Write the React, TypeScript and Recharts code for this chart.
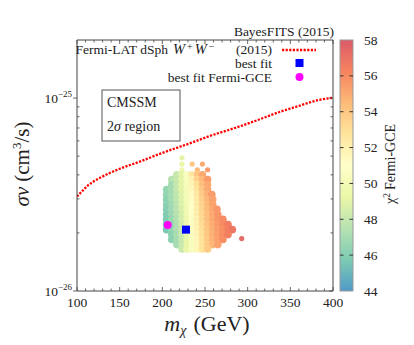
import React from 'react';
import { ComposedChart, Scatter, Line, XAxis, YAxis, ReferenceLine, BarChart, Bar } from 'recharts';

// ---------- data ----------
const xTicks = [100, 110, 120, 130, 140, 150, 160, 170, 180, 190, 200, 210, 220, 230, 240, 250, 260, 270, 280, 290, 300, 310, 320, 330, 340, 350, 360, 370, 380, 390, 400];
const xTickLabels = [100, 150, 200, 250, 300, 350, 400];
// sigma v in units of 1e-26 cm^3/s
const yMajorTicks = [1, 10];
const yTickLabels = ['\u221226', '\u221225'];
const yMinorTicks = [2, 3, 4, 5, 6, 7, 8, 9];
const colorbarTicks = [44, 46, 48, 50, 52, 54, 56, 58];

const fermiLimitMass = [100, 106, 112, 118, 127, 150, 174, 197, 221, 232, 255, 279, 303, 318, 340, 358, 381, 400];
const fermiLimitSv = [3.09, 3.29, 3.5, 3.66, 3.86, 4.3, 4.69, 5.14, 5.6, 5.82, 6.35, 6.86, 7.45, 7.88, 8.55, 9.05, 9.72, 10.05];

const bestFit = [{ m: 227.7, sv: 2.08 }];
const bestFitGCE = [{ m: 206.3, sv: 2.2 }];

// rows of the 2 sigma region: [sigma v, [[m, chi2], ...]]
const cloudRows: [number, [number, number][]][] = [
  [4.9, [[223, 49]]],
  [4.55, [[223, 49.3], [235, 54], [247, 55]]],
  [4.25, [[223, 49.5], [241, 54.5], [253, 55.5]]],
  [4.0, [[217, 48], [223, 49], [229, 50.5], [235, 52.5], [241, 54], [247, 55]]],
  [3.78, [[211, 47.5], [217, 48], [223, 49], [229, 50.5], [235, 52], [241, 53.5], [247, 54.5], [253, 55.5]]],
  [3.56, [[211, 47], [217, 48], [223, 49], [229, 50.3], [235, 51.8], [241, 53], [247, 54.3], [253, 55]]],
  [3.36, [[205, 46.5], [211, 47], [217, 48], [223, 49], [229, 50.2], [235, 51.5], [241, 52.8], [247, 54], [253, 55]]],
  [3.16, [[205, 46.5], [211, 47], [217, 47.8], [223, 48.8], [229, 50], [235, 51.3], [241, 52.5], [247, 53.8], [253, 54.8], [258, 55.5]]],
  [2.98, [[205, 46.3], [211, 47], [217, 47.8], [223, 48.8], [229, 50], [235, 51.2], [241, 52.4], [247, 53.6], [253, 54.6], [259, 55.3]]],
  [2.81, [[205, 46.2], [211, 46.9], [217, 47.7], [223, 48.7], [229, 49.9], [235, 51.1], [241, 52.3], [247, 53.5], [253, 54.5], [259, 55.2]]],
  [2.65, [[205, 46], [211, 46.8], [217, 47.6], [223, 48.6], [229, 49.8], [235, 51], [241, 52.2], [247, 53.4], [253, 54.4], [259, 55.1], [264, 55.6]]],
  [2.49, [[205, 45.9], [211, 46.7], [217, 47.5], [223, 48.5], [229, 49.7], [235, 50.9], [241, 52.1], [247, 53.3], [253, 54.3], [259, 55], [265, 55.6]]],
  [2.35, [[205, 45.8], [211, 46.6], [217, 47.4], [223, 48.4], [229, 49.6], [235, 50.8], [241, 52], [247, 53.2], [253, 54.2], [259, 55], [265, 55.6], [271, 56]]],
  [2.21, [[205, 45.7], [211, 46.5], [217, 47.3], [223, 48.3], [229, 49.5], [235, 50.7], [241, 51.9], [247, 53.1], [253, 54.1], [259, 54.9], [265, 55.5], [271, 56], [277, 56.5]]],
  [2.08, [[205, 45.6], [211, 46.4], [217, 47.2], [223, 48.2], [229, 49.4], [235, 50.6], [241, 51.8], [247, 53], [253, 54], [259, 54.8], [265, 55.4], [271, 55.9], [277, 56.4], [282, 56.8]]],
  [1.96, [[211, 46.3], [217, 47.1], [223, 48.1], [229, 49.3], [235, 50.5], [241, 51.7], [247, 52.9], [253, 53.9], [259, 54.8], [265, 55.4], [271, 55.9], [277, 56.4]]],
  [1.87, [[293, 57.3]]],
  [1.85, [[211, 46.2], [217, 47], [223, 48], [229, 49.2], [235, 50.4], [241, 51.6], [247, 52.8], [253, 53.9], [259, 54.7], [265, 55.3], [271, 55.9]]],
  [1.74, [[217, 47], [223, 48], [229, 49.2], [235, 50.4], [241, 51.6], [247, 52.8], [253, 53.8], [259, 54.6], [265, 55.3]]],
  [1.65, [[223, 48.1], [229, 49.3], [235, 50.4], [241, 51.6], [247, 52.8], [253, 53.8]]],
];

// ---------- derived tables ----------
const fermiLimit = fermiLimitMass.map((m, i) => ({ m, sv: fermiLimitSv[i] }));
const cloud = cloudRows.flatMap(([sv, pts]) => pts.map(([m, chi]) => ({ m, sv, chi, edge: pts.length <= 3 })));

// ---------- style / layout ----------
const W = 414;
const H = 345;
const FONT = '"Liberation Serif", "Times New Roman", serif';
const AX = '#444';
const MARGIN = { top: 40, right: 81, bottom: 24, left: 17 };
const Y_AXIS_W = 60;
const X_AXIS_H = 30;
const PLOT_TOP = MARGIN.top;
const PLOT_RIGHT = W - MARGIN.right;
const CB_LEFT = 340;
const CB_RIGHT = 353;
const CB_AXIS_W = 50;

const SPECTRAL = ['#3288bd', '#66c2a5', '#abdda4', '#e6f598', '#ffffbf', '#fee08b', '#fdae61', '#f46d43', '#d53e4f'];
const CHI_MIN = 44;
const CHI_MAX = 58;
const ALPHA = 0.85;

function hexRgb(h: string) {
  return [parseInt(h.slice(1, 3), 16), parseInt(h.slice(3, 5), 16), parseInt(h.slice(5, 7), 16)];
}
function blend(rgb: number[]) {
  const c = rgb.map((v) => Math.round(v * ALPHA + 255 * (1 - ALPHA)));
  return `rgb(${c[0]},${c[1]},${c[2]})`;
}
function colorFor(chi: number) {
  let t = (chi - CHI_MIN) / (CHI_MAX - CHI_MIN);
  t = Math.max(0, Math.min(1, t));
  const pos = t * (SPECTRAL.length - 1);
  const i = Math.min(SPECTRAL.length - 2, Math.floor(pos));
  const f = pos - i;
  const a = hexRgb(SPECTRAL[i]);
  const b = hexRgb(SPECTRAL[i + 1]);
  return blend(a.map((v, k) => v + (b[k] - v) * f));
}

const XTick = (props: any) => {
  const { x, y, payload } = props;
  const v = payload.value;
  const major = xTickLabels.includes(v);
  const len = major ? 4 : 2.5;
  return (
    <g>
      <line x1={x} x2={x} y1={y} y2={y - len} stroke={AX} strokeWidth={0.8} />
      <line x1={x} x2={x} y1={PLOT_TOP} y2={PLOT_TOP + len} stroke={AX} strokeWidth={0.8} />
      {major && (
        <text x={x} y={y + 16} textAnchor="middle" fontSize={13.5} fontFamily={FONT} fill="#222">
          {v}
        </text>
      )}
    </g>
  );
};

const YTick = (props: any) => {
  const { x, y, payload } = props;
  const v = payload.value;
  const mi = yMajorTicks.indexOf(v);
  if (mi >= 0) {
    return (
      <g>
        <line x1={x} x2={x - 4} y1={y} y2={y} stroke={AX} strokeWidth={0.8} />
        <line x1={PLOT_RIGHT} x2={PLOT_RIGHT - 4} y1={y} y2={y} stroke={AX} strokeWidth={0.8} />
        <text x={x - 5} y={y + 4.5} textAnchor="end" fontSize={13.5} fontFamily={FONT} fill="#222">
          10<tspan dy={-6} fontSize={9}>{yTickLabels[mi]}</tspan>
        </text>
      </g>
    );
  }
  return (
    <g>
      <line x1={x} x2={x + 2.5} y1={y} y2={y} stroke={AX} strokeWidth={0.8} />
      <line x1={PLOT_RIGHT} x2={PLOT_RIGHT - 2.5} y1={y} y2={y} stroke={AX} strokeWidth={0.8} />
    </g>
  );
};

const CloudDot = (props: any) => {
  const { cx, cy, payload } = props;
  if (cx == null || cy == null) return null;
  const fill = colorFor(payload.chi);
  return <circle cx={cx} cy={cy} r={payload.edge ? 2.6 : 3.8} fill={fill} />;
};
const SquareDot = (props: any) => {
  const { cx, cy } = props;
  return <rect x={cx - 4} y={cy - 4} width={8} height={8} fill="#0000ff" />;
};
const CircleDot = (props: any) => {
  const { cx, cy } = props;
  return <circle cx={cx} cy={cy} r={4} fill="#ff00ff" />;
};

const CbShape = (props: any) => {
  const { x, y, width, height } = props;
  return (
    <g>
      <defs>
        <linearGradient id="cbgrad" x1="0" y1="1" x2="0" y2="0">
          {SPECTRAL.map((c, i) => (
            <stop key={i} offset={i / (SPECTRAL.length - 1)} stopColor={blend(hexRgb(c))} />
          ))}
        </linearGradient>
      </defs>
      <rect x={x} y={y} width={width} height={height} fill="url(#cbgrad)" stroke="#999" strokeWidth={1} />
    </g>
  );
};

const CbTick = (props: any) => {
  const { x, y, payload } = props;
  const v = payload.value;
  const inner = v !== CHI_MIN && v !== CHI_MAX;
  return (
    <g>
      {inner && <line x1={x - 3.5} x2={x} y1={y} y2={y} stroke="#333" strokeWidth={1} />}
      {inner && <line x1={CB_LEFT} x2={CB_LEFT + 3.5} y1={y} y2={y} stroke="#333" strokeWidth={1} />}
      <text x={x + 11} y={y + 4.5} fontSize={13.5} fontFamily={FONT} fill="#222">
        {v}
      </text>
    </g>
  );
};

export default function App() {
  return (
    <div style={{ position: 'absolute', left: 0, top: 0, width: W, height: H, background: '#fff' }}>
      <div style={{ position: 'absolute', left: 0, top: 0 }}>
        <BarChart
          width={W}
          height={H}
          data={[{ name: 'cb', range: [CHI_MIN, CHI_MAX] }]}
          margin={{ top: 40, bottom: 54, left: CB_LEFT, right: W - CB_RIGHT - CB_AXIS_W }}
          barCategoryGap={0}
        >
          <XAxis dataKey="name" hide />
          <YAxis
            orientation="right"
            width={CB_AXIS_W}
            type="number"
            domain={[CHI_MIN, CHI_MAX]}
            ticks={colorbarTicks}
            interval={0}
            tickSize={0}
            tickMargin={0}
            axisLine={false}
            tickLine={false}
            tick={<CbTick />}
          />
          <Bar dataKey="range" shape={<CbShape />} isAnimationActive={false} />
        </BarChart>
      </div>
      <div style={{ position: 'absolute', left: 0, top: 0 }}>
        <ComposedChart width={W} height={H} margin={MARGIN}>
          <XAxis
            dataKey="m"
            type="number"
            domain={[100, 400]}
            ticks={xTicks}
            interval={0}
            height={X_AXIS_H}
            tickSize={0}
            tickMargin={0}
            tickLine={false}
            tick={<XTick />}
            stroke={AX}
            allowDataOverflow
          />
          <YAxis
            dataKey="sv"
            type="number"
            scale="log"
            domain={[1, 20]}
            ticks={[...yMajorTicks, ...yMinorTicks].sort((a, b) => a - b)}
            interval={0}
            width={Y_AXIS_W}
            tickSize={0}
            tickMargin={0}
            tickLine={false}
            tick={<YTick />}
            stroke={AX}
            allowDataOverflow
          />
          <ReferenceLine y={20} stroke={AX} strokeWidth={1} ifOverflow="visible" />
          <ReferenceLine x={400} stroke={AX} strokeWidth={1} ifOverflow="visible" />
          <Scatter data={cloud} shape={<CloudDot />} isAnimationActive={false} />
          <Line
            data={fermiLimit}
            dataKey="sv"
            type="monotone"
            stroke="#ff0000"
            strokeWidth={2.3}
            strokeDasharray="2.2 1.4"
            dot={false}
            activeDot={false}
            isAnimationActive={false}
          />
          <Scatter data={bestFitGCE} shape={<CircleDot />} isAnimationActive={false} />
          <Scatter data={bestFit} shape={<SquareDot />} isAnimationActive={false} />
        </ComposedChart>
      </div>
      <svg
        width={W}
        height={H}
        style={{ position: 'absolute', left: 0, top: 0, pointerEvents: 'none' }}
        fontFamily={FONT}
        fill="#222"
      >
        <text x={334} y={36} textAnchor="end" fontSize={13.5}>BayesFITS (2015)</text>
        <text x={168} y={54} textAnchor="end" fontSize={13.5}>Fermi-LAT dSph</text>
        <text x={173} y={54} textAnchor="start" fontSize={14.5} fontStyle="italic">
          W<tspan dy={-4.5} dx={2} fontSize={10} fontStyle="normal">+</tspan>
          <tspan dy={4.5} dx={2}>W</tspan>
          <tspan dy={-4.5} dx={2} fontSize={10} fontStyle="normal">{'\u2212'}</tspan>
        </text>
        <text x={272} y={54} textAnchor="end" fontSize={13.5}>(2015)</text>
        <line x1={282} x2={316} y1={50} y2={50} stroke="#ff0000" strokeWidth={2.3} strokeDasharray="2.2 1.4" />
        <text x={272} y={67.5} textAnchor="end" fontSize={13.5}>best fit</text>
        <rect x={295.5} y={59} width={8} height={8} fill="#0000ff" />
        <text x={272} y={81.5} textAnchor="end" fontSize={13.5}>best fit Fermi-GCE</text>
        <circle cx={299.5} cy={77} r={4} fill="#ff00ff" />
        <rect x={102} y={90} width={78} height={51} fill="#fff" stroke="#555" strokeWidth={1} />
        <text x={107} y={107} fontSize={14}>CMSSM</text>
        <text x={107} y={131} fontSize={14}>
          2<tspan fontStyle="italic">σ</tspan> region
        </text>
        <text x={207} y={331} textAnchor="middle" fontSize={22}>
          <tspan fontStyle="italic">m</tspan>
          <tspan dy={4} fontSize={14} fontStyle="italic">χ</tspan>
          <tspan dy={-4} dx={7}>(GeV)</tspan>
        </text>
        <text transform="translate(29,164) rotate(-90)" textAnchor="middle" fontSize={21}>
          <tspan fontStyle="italic">σv</tspan>
          <tspan dx={5}>(cm</tspan>
          <tspan dy={-8} fontSize={13}>3</tspan>
          <tspan dy={8}>/s)</tspan>
        </text>
        <text transform="translate(395,164) rotate(-90)" textAnchor="middle" fontSize={14}>
          χ<tspan dy={-5} fontSize={9.5}>2</tspan>
          <tspan dy={5} dx={3}>Fermi-GCE</tspan>
        </text>
      </svg>
    </div>
  );
}
